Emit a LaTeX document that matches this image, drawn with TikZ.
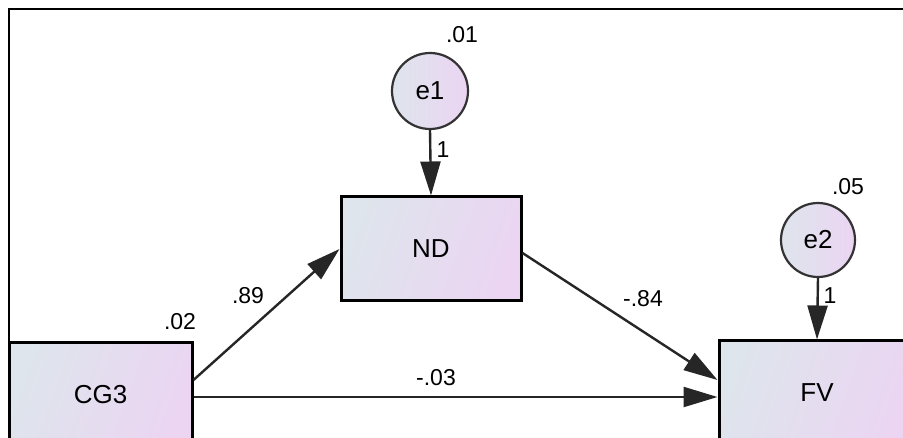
\documentclass[tikz,border=0pt]{standalone}
\usepackage{fontspec}
\setmainfont{Liberation Sans}
\usetikzlibrary{arrows.meta}
\definecolor{fillL}{HTML}{DEE5EC}
\definecolor{fillR}{HTML}{EBD5F2}
\tikzset{
  obsbox/.style={draw=black, line width=3pt, left color=fillL, right color=fillR,
    shading angle=70, minimum width=#1, minimum height=104pt, inner sep=0pt,
    font=\fontsize{26}{28}\selectfont},
  errc/.style={draw=black!80, line width=2.2pt, circle, left color=fillL, right color=fillR,
    minimum size=#1, inner sep=0pt, font=\fontsize{26}{28}\selectfont},
  lbl/.style={inner sep=0pt, font=\fontsize{23}{25}\selectfont},
  path/.style={draw=black!85, line width=2.4pt,
    -{Triangle[length=34pt,width=20pt]}},
}
\begin{document}
\begin{tikzpicture}[x=1pt,y=-1pt]
\useasboundingbox (0,0) rectangle (903,438);
\clip (0,0) rectangle (903,438);
\fill[white] (0,0) rectangle (903,438);
\draw[line width=2pt] (8.5,460) -- (8.5,9) -- (920,9);

\node[obsbox=180pt] (ND) at (431,249) {ND};
\node[obsbox=183pt] (CG3) at (100.5,395) {CG3};
\node[obsbox=196pt] (FV) at (817,393) {FV};
\node[errc=76pt] (e1) at (430,91) {e1};
\node[errc=74pt] (e2) at (818,240) {e2};

\draw[path] (e1.south) -- (ND.north);
\draw[path] (e2.south) -- (FV.north);
\draw[path] ([yshift=15pt]CG3.east) -- (ND.west);
\draw[path] ([yshift=-4pt]ND.east) -- ([yshift=13pt]FV.west);
\draw[path] ([yshift=-2pt]CG3.east) -- ([yshift=-2pt]CG3.east -| FV.west);

\node[lbl] (l01) at (462,35) {.01};
\node[lbl] (l1a) at (443,150) {1};
\node[lbl] (l02) at (180,322) {.02};
\node[lbl] (l89) at (248,296) {.89};
\node[lbl] (l84) at (643,299) {-.84};
\node[lbl] (l03) at (436,378) {-.03};
\node[lbl] (l05) at (848,187) {.05};
\node[lbl] (l1b) at (830,296) {1};
\end{tikzpicture}
\end{document}
